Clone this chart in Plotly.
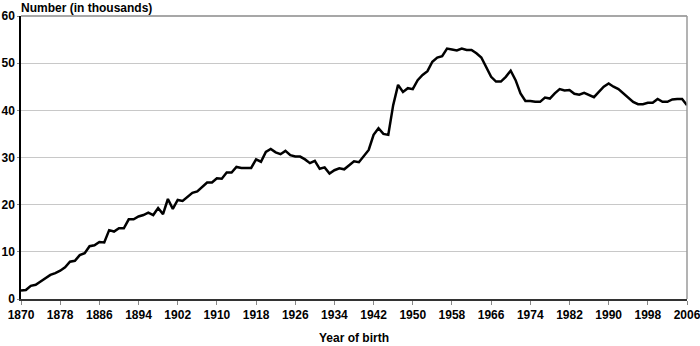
import plotly.graph_objects as go

start_year = 1870
values = [
    1.8, 1.9, 2.8, 3.0, 3.7, 4.4, 5.1, 5.5, 6.0, 6.7,          # 1870s
    7.9, 8.1, 9.3, 9.7, 11.2, 11.4, 12.1, 12.0, 14.6, 14.3,    # 1880s
    15.0, 15.0, 16.9, 16.9, 17.5, 17.8, 18.3, 17.8, 19.3, 18.0,  # 1890s
    21.2, 19.1, 21.0, 20.8, 21.7, 22.5, 22.8, 23.8, 24.7, 24.7,  # 1900s
    25.6, 25.5, 26.8, 26.8, 28.0, 27.8, 27.8, 27.8, 29.6, 29.1,  # 1910s
    31.2, 31.8, 31.1, 30.7, 31.4, 30.5, 30.2, 30.2, 29.6, 28.8,  # 1920s
    29.3, 27.6, 27.9, 26.6, 27.3, 27.7, 27.5, 28.4, 29.2, 29.0,  # 1930s
    30.2, 31.6, 34.8, 36.2, 35.0, 34.8, 41.1, 45.4, 43.9, 44.7,  # 1940s
    44.5, 46.4, 47.5, 48.3, 50.3, 51.2, 51.5, 53.1, 52.9, 52.7,  # 1950s
    53.1, 52.8, 52.8, 52.1, 51.2, 49.2, 47.1, 46.1, 46.1, 47.1,  # 1960s
    48.4, 46.4, 43.6, 42.0, 42.0, 41.8, 41.8, 42.7, 42.5, 43.6,  # 1970s
    44.5, 44.2, 44.3, 43.5, 43.3, 43.7, 43.3, 42.8, 43.9, 45.0,  # 1980s
    45.7, 45.0, 44.5, 43.6, 42.5, 41.8, 41.3, 41.3, 41.6, 41.6,  # 1990s
    42.4, 41.8, 41.8, 42.3, 42.4, 42.4, 41.1,                    # 2000s
]
years = list(range(start_year, start_year + len(values)))
x_ticks = list(range(1870, 2007, 8))
y_ticks = [0, 10, 20, 30, 40, 50, 60]

font_family = "Liberation Sans, Arial, sans-serif"

fig = go.Figure()
fig.add_trace(go.Scatter(
    x=years, y=values, mode="lines",
    line=dict(color="black", width=2.5),
    hoverinfo="x+y", showlegend=False,
))

fig.update_layout(
    width=700, height=346,
    margin=dict(l=21, r=13, t=16, b=47),
    paper_bgcolor="white", plot_bgcolor="white",
    font=dict(family=font_family, size=12, color="black"),
    xaxis=dict(
        range=[1870, 2006], tickvals=x_ticks, ticktext=[str(t) for t in x_ticks],
        tickfont=dict(family=font_family, size=12, color="black", weight="bold"),
        showgrid=False, zeroline=False, automargin=False,
        ticklabeloverflow="allow",
        showline=True, linecolor="#333333", linewidth=1.5,
        ticks="outside", ticklen=4, tickcolor="#888888", tickwidth=1,
        mirror=False,
        title=dict(text="<b>Year of birth</b>", font=dict(size=12, family=font_family), standoff=12),
    ),
    yaxis=dict(
        range=[0, 60], tickvals=y_ticks,
        tickfont=dict(family=font_family, size=12, color="black", weight="bold"),
        showgrid=True, gridcolor="#c8c8c8", gridwidth=1,
        zeroline=False, automargin=False,
        ticklabeloverflow="allow",
        showline=True, linecolor="black", linewidth=1.5,
        ticks="outside", ticklen=2, tickcolor="#888888",
    ),
    shapes=[
        dict(type="line", xref="paper", yref="paper", x0=0, x1=1, y0=1, y1=1,
             line=dict(color="#8a8a8a", width=1.5)),
        dict(type="line", xref="paper", yref="paper", x0=1, x1=1, y0=0, y1=1,
             line=dict(color="#9a9a9a", width=1.5)),
    ],
    annotations=[
        dict(text="<b>Number (in thousands)</b>", xref="paper", yref="paper",
             x=0, y=1, xshift=-2, yshift=-1, xanchor="left", yanchor="bottom",
             showarrow=False, font=dict(family=font_family, size=12, color="black")),
    ],
)

fig.write_html("out.html", config={"displayModeBar": False},
               post_script="document.body.style.margin='0';document.body.style.overflow='hidden';")
